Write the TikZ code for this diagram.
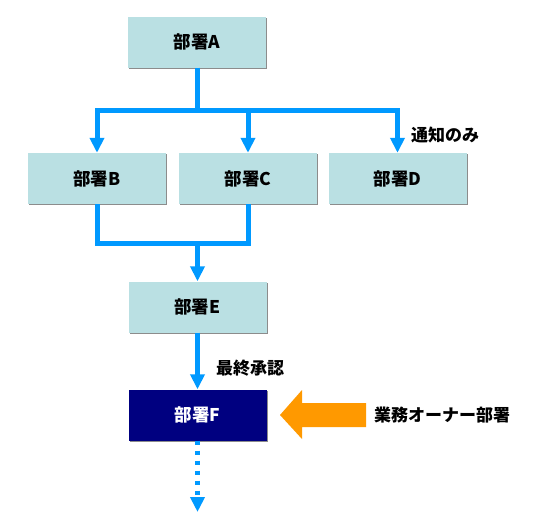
\documentclass[tikz,border=0pt]{standalone}
\usepackage{fontspec}
\setmainfont{Noto Sans CJK JP}
\usetikzlibrary{arrows.meta}
\usetikzlibrary{shadows}
\definecolor{flowblue}{HTML}{0099FF}
\definecolor{boxteal}{HTML}{BAE0E3}
\definecolor{ownernavy}{HTML}{000080}
\definecolor{owneramber}{HTML}{FF9900}
\def\boxw{138pt}
\def\boxh{51pt}
\tikzset{
  dept/.style = {rectangle, fill = boxteal, minimum width = \boxw,
    minimum height = \boxh, inner sep = 0pt, font = \fontsize{17.5}{19}\selectfont\bfseries,
    drop shadow = {shadow xshift = 1.3pt, shadow yshift = -1.3pt,
      fill = black!45, opacity = 1}},
  flow/.style = {draw = flowblue, line width = 5pt, line join = miter},
  flowarrow/.style = {flow, -{Triangle[width = 14pt, length = 15pt]}},
  note/.style = {font = \fontsize{17}{19}\selectfont\bfseries, inner sep = 0pt}
}

\begin{document}
\begin{tikzpicture} [x = 1 pt, y = -1 pt]
    \useasboundingbox (0, 0) rectangle (539, 520);

    \node[dept] (a) at (197, 42) {部署A};
    \node[dept] (b) at (97, 178.5) {部署B};
    \node[dept] (c) at (248, 178.5) {部署C};
    \node[dept] (d) at (397.5, 178.5) {部署D};
    \node[dept] (e) at (197.5, 307) {部署E};
    \node[dept, fill = ownernavy, text = white] (f) at (197.5, 415) {部署F};

    \coordinate (split) at (197, 110);
    \coordinate (merge) at (197.5, 243);
    \coordinate (next) at (197.5, 512);

    % A -> B, C, D
    \draw[flow] (a.south) -- (split);
    \draw[flow, line cap = rect] (b |- split) -- (d |- split);
    \draw[flowarrow] (b |- split) -- (b.north);
    \draw[flowarrow] (c |- split) -- (c.north);
    \draw[flowarrow] (d |- split) -- (d.north);
    \node[note, anchor = west] (notice) at (411, 135) {通知のみ};

    % B, C -> E
    \draw[flow] (b.south) |- (c |- merge) -- (c.south);
    \draw[flowarrow] (merge) -- (e.north);

    % E -> F
    \draw[flowarrow] (e.south) -- (f.north);
    \node[note, anchor = west] (approve) at (216, 368) {最終承認};

    \draw[flowarrow, dash pattern = on 4pt off 6pt] (f.south) -- (next);

    \node[note, anchor = west] (owner) at (374, 415) {業務オーナー部署};
    \fill[owneramber]
         (280, 415) -- (302, 390) -- (302, 403) -- (366, 403)
      -- (366, 427) -- (302, 427) -- (302, 439) -- cycle;
  \end{tikzpicture}
\end{document}
